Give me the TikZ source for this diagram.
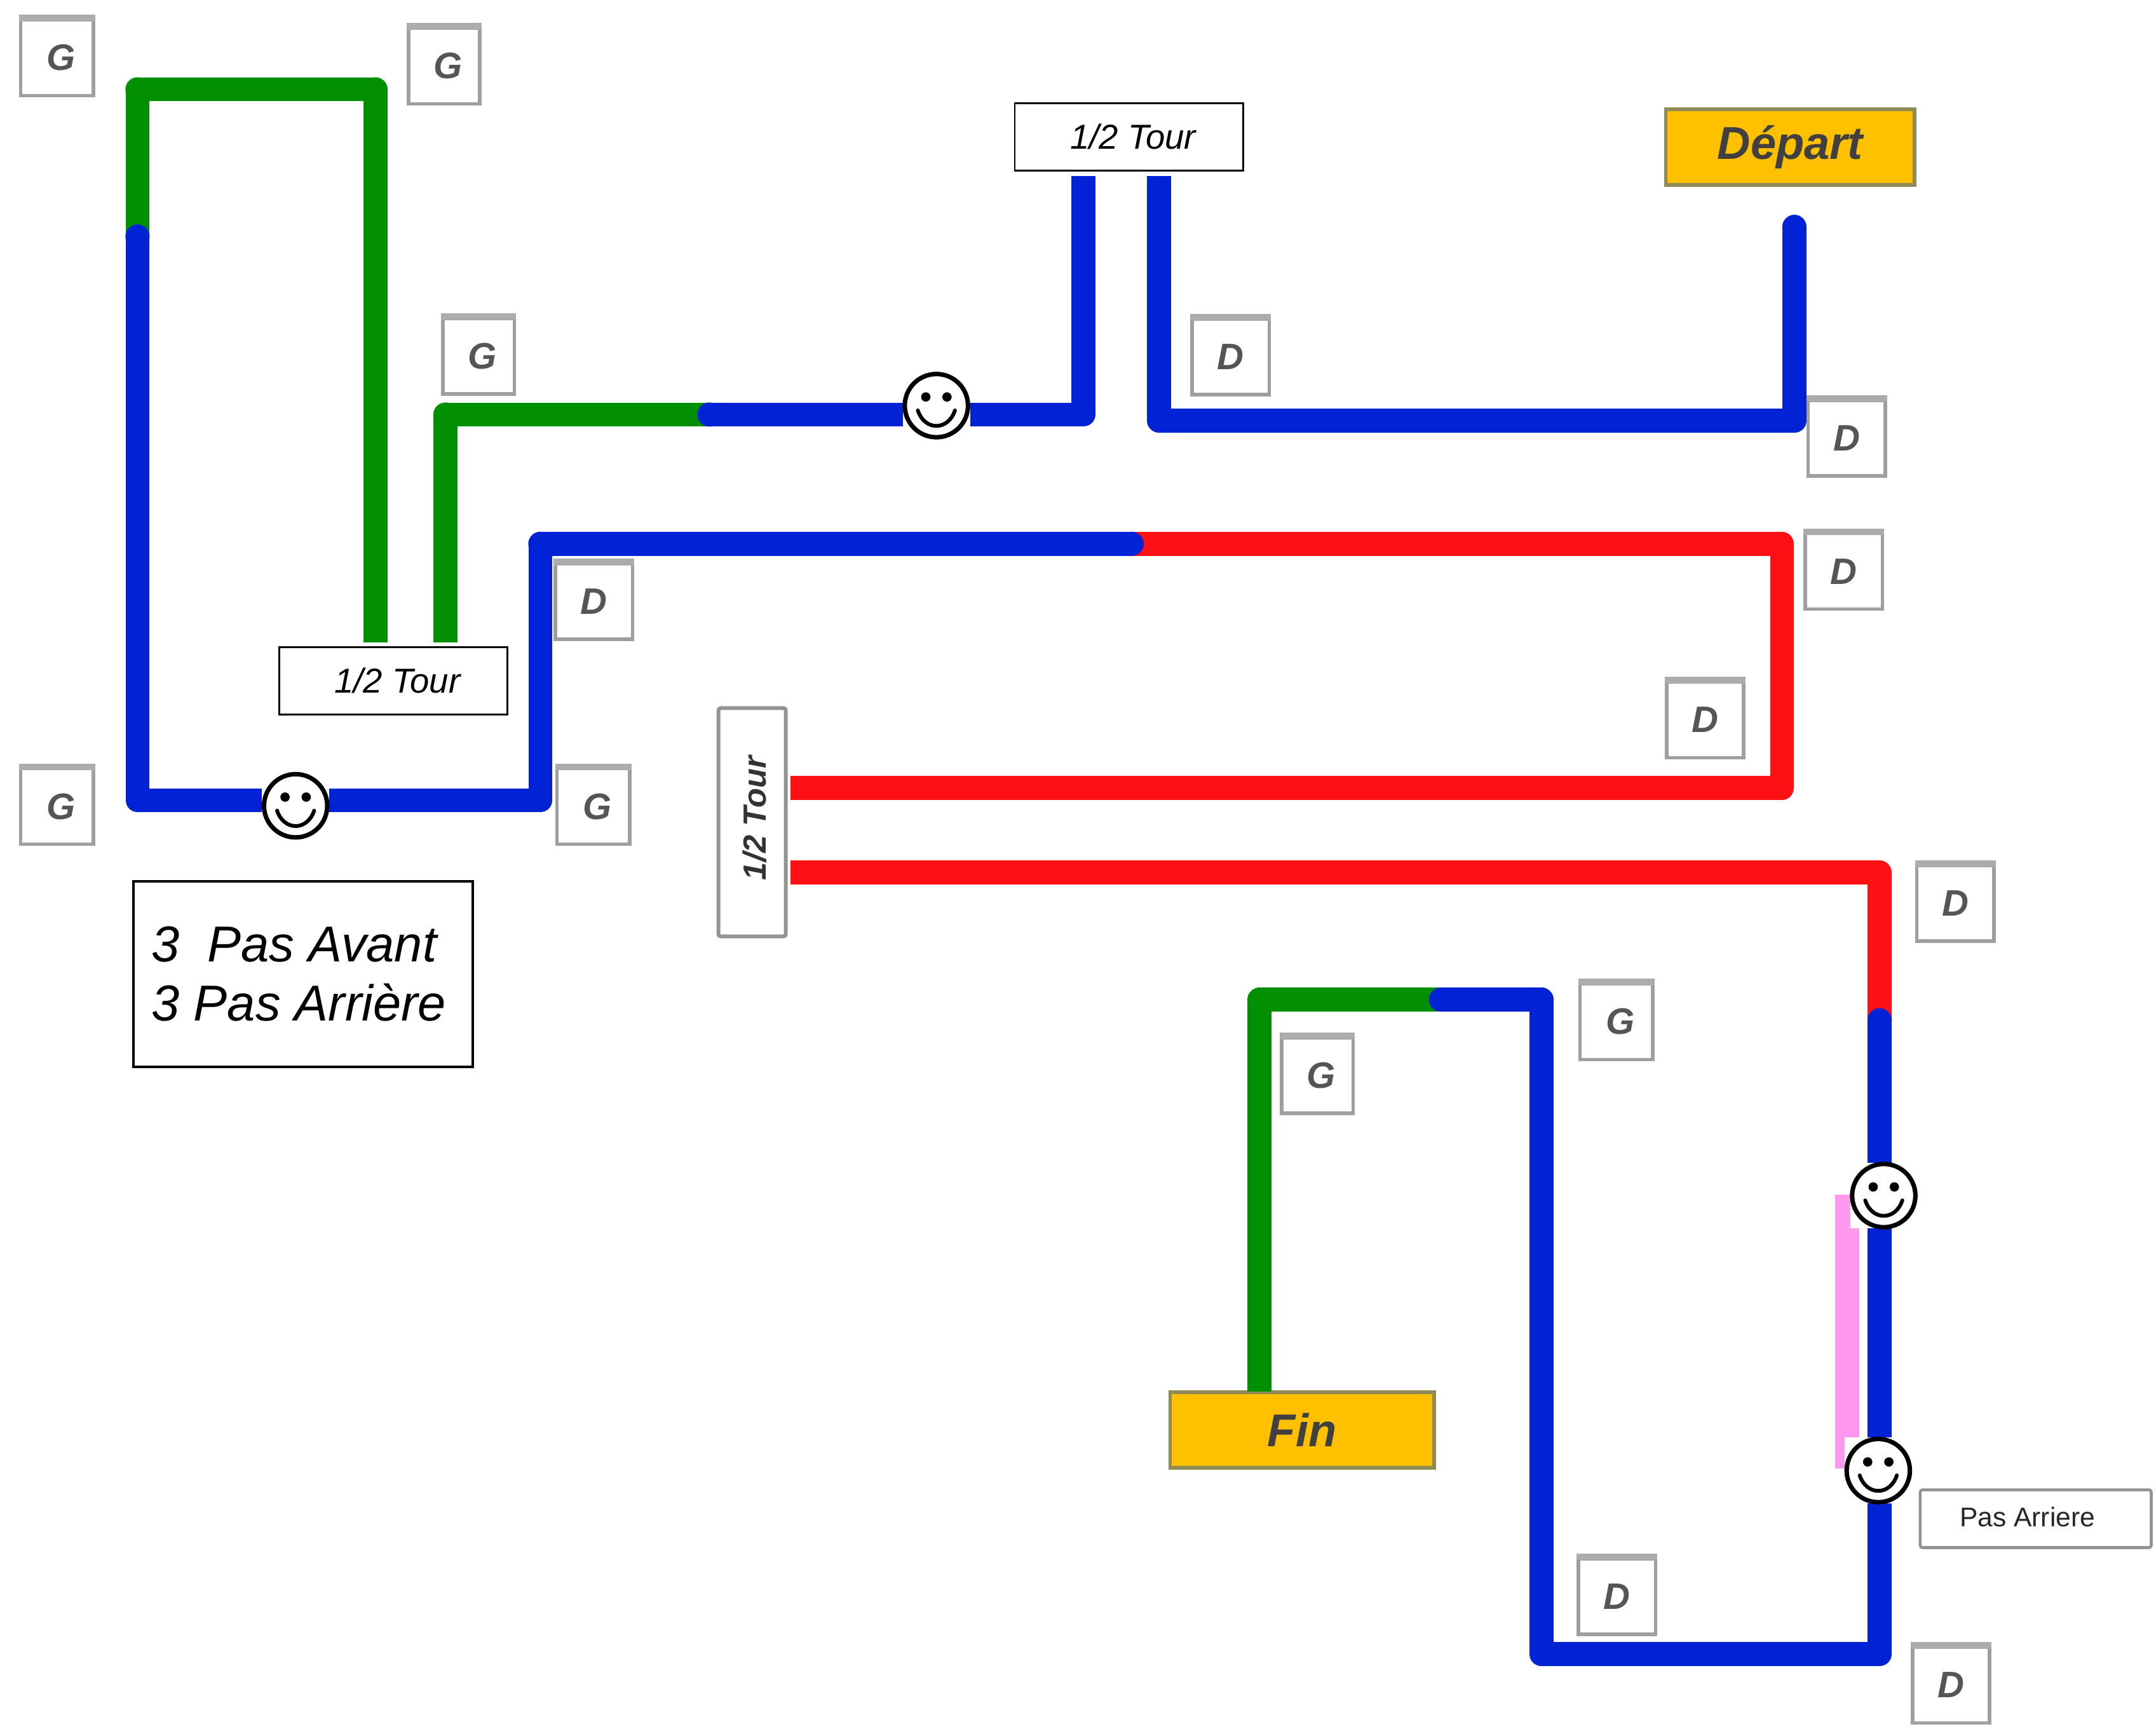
\documentclass[tikz,border=0pt]{standalone}
\usepackage{fontspec}
\setmainfont{Liberation Sans}
\definecolor{tgreen}{RGB}{2,144,2}
\definecolor{tblue}{RGB}{2,34,214}
\definecolor{tred}{RGB}{255,16,20}
\definecolor{tpink}{RGB}{255,153,238}
\definecolor{gold}{RGB}{255,192,0}
\definecolor{letter}{RGB}{85,85,85}
\newcommand{\capdot}[2]{\fill[#1] (#2) circle (8.8);}
\newcommand{\smileyface}[2]{%
  \fill[white] (#2)++(-24.5,-24) rectangle ++(49,48);
  \node[smile] (#1) at (#2) {};
  \fill (#2)++(-7.7,-6.3) circle (3.4);
  \fill (#2)++(7.7,-6.3) circle (3.4);
  \draw[line width=1.7pt,line cap=round] (#2)++(-13.5,3.5) .. controls +(5,15) and +(-5,15) .. ++(27,0);
}
\tikzset{
  x=0.2164mm,y=-0.2164mm,
  track/.style={line width=10.7pt,line join=round,line cap=butt},
  smile/.style={circle,draw=black,line width=2pt,minimum size=46*0.2164mm,inner sep=0pt},
  keybox/.style={rectangle,inner sep=0pt,minimum width=50*0.2164mm,minimum height=55*0.2164mm,
    draw=gray!75,line width=1.6pt,fill=white,text=letter,font=\fontsize{16.5}{16.5}\selectfont\itshape\bfseries},
  keytop/.style={line width=3pt,draw=gray!65},
  infobox/.style={rectangle,draw=black,line width=0.8pt,fill=white,inner sep=0pt,
    minimum width=166*0.2164mm,minimum height=49*0.2164mm,font=\fontsize{15.5}{15.5}\selectfont\itshape},
  goldbox/.style={rectangle,draw=gray!60!olive,line width=1.6pt,fill=gold,inner sep=0pt,
    text=black!75,font=\fontsize{20.6}{20.6}\selectfont\itshape\bfseries},
}
\newcommand{\keyb}[4]{%
  \node[keybox,minimum width=#4*0.2164mm] (#1) at (#2) {\raisebox{-0.6pt}{#3}};
  \draw[keytop] (#1.north west) -- (#1.north east);
}
\begin{document}
\begin{tikzpicture}
\useasboundingbox (0,0) rectangle (1568,1257.4);
% label boxes
\node[infobox] (tourtop) at (821,99.5) {\hspace{0.24em}\raisebox{-1pt}{1/2 Tour}};
\node[infobox] (tourleft) at (286,495) {\hspace{0.24em}\raisebox{-1pt}{1/2 Tour}};
\node[rectangle,rounded corners=1pt,draw=gray!85,line width=1.7pt,fill=white,inner sep=0pt,
  minimum width=49*0.2164mm,minimum height=166*0.2164mm] (tourmid) at (547,598) {};
\node[rotate=90,text=black!80,font=\fontsize{14.4}{14.4}\selectfont\itshape\bfseries] (tourmidtext) at (549,595) {1/2 Tour};
\node[goldbox,minimum width=181*0.2164mm,minimum height=55*0.2164mm] (depart) at (1302,107) {Départ};
\node[goldbox,minimum width=192*0.2164mm,minimum height=55*0.2164mm] (fin) at (947,1040) {Fin};
\node[rectangle,draw=black,line width=1.1pt,inner sep=0pt,minimum width=247*0.2164mm,minimum height=135*0.2164mm] (legend) at (220.5,708.5) {};
\node[anchor=west,inner sep=0pt,font=\fontsize{22.6}{22.6}\selectfont\itshape] (legendA) at (110,687) {3\hspace{0.55em}Pas Avant};
\node[anchor=west,inner sep=0pt,font=\fontsize{22.6}{22.6}\selectfont\itshape] (legendB) at (110,729) {3 Pas Arrière};
\node[rectangle,rounded corners=1pt,draw=gray!85,line width=1.3pt,fill=white,inner sep=0pt,
  minimum width=168*0.2164mm,minimum height=42*0.2164mm] (pasarr) at (1480.5,1104.5) {};
\node[text=black!85,font=\fontsize{12.1}{12.1}\selectfont] (pasarrtext) at (1474.5,1103) {Pas Arriere};
% way points
\coordinate (a1) at (100,172);
\coordinate (a2) at (100,65);
\coordinate (a3) at (273,65);
\coordinate (a4) at (273,467);
\coordinate (a5) at (100,582);
\coordinate (a6) at (393,582);
\coordinate (a7) at (393,395.5);
\coordinate (a8) at (823,395.5);
\coordinate (a9) at (1296,395.5);
\coordinate (a10) at (1296,573);
\coordinate (a11) at (575,573);
\coordinate (b1) at (324,467);
\coordinate (b2) at (324,301.5);
\coordinate (b3) at (516,301.5);
\coordinate (b4) at (788,301.5);
\coordinate (b5) at (788,128);
\coordinate (c1) at (843,128);
\coordinate (c2) at (843,306);
\coordinate (c3) at (1305,306);
\coordinate (c4) at (1305,165);
\coordinate (d1) at (575,634.5);
\coordinate (d2) at (1367,634.5);
\coordinate (d3) at (1367,742);
\coordinate (d4) at (1367,1203);
\coordinate (d5) at (1121,1203);
\coordinate (d6) at (1121,727);
\coordinate (d7) at (1048,727);
\coordinate (d8) at (916,727);
\coordinate (d9) at (916,1012);
% tracks
\draw[track,tgreen] (a1) -- (a2) -- (a3) -- (a4);
\capdot{tgreen}{a2}\capdot{tgreen}{a3}
\draw[track,tgreen] (b1) -- (b2) -- (b3);
\capdot{tgreen}{b2}
\draw[track,tgreen] (d7) -- (d8) -- (d9);
\draw[track,tred] (a8) -- (a9) -- (a10) -- (a11);
\draw[track,tred] (d1) -- (d2) -- (d3);
\draw[track,tblue] (a1) -- (a5) -- (a6) -- (a7) -- (a8);
\capdot{tblue}{a1}\capdot{tblue}{a7}\capdot{tblue}{a8}
\draw[track,tblue] (b3) -- (b4) -- (b5);
\capdot{tblue}{b3}
\draw[track,tblue] (c1) -- (c2) -- (c3) -- (c4);
\capdot{tblue}{c4}
\draw[track,tblue] (d3) -- (d4) -- (d5) -- (d6) -- (d7);
\capdot{tblue}{d3}\capdot{tblue}{d6}\capdot{tblue}{d7}
% pink bar
\fill[tpink] (1334.5,869) rectangle (1352,1068);
% smileys
\coordinate (s1) at (681,295);
\coordinate (s2) at (215,586);
\coordinate (s3) at (1370,869.5);
\coordinate (s4) at (1366,1069.5);
\smileyface{smileA}{s1}
\smileyface{smileB}{s2}
\smileyface{smileC}{s3}
\smileyface{smileD}{s4}
% G and D keys
\keyb{g1}{41.5,42}{\hspace{0.22em}G}{53}
\keyb{g2}{323,48}{\hspace{0.22em}G}{52}
\keyb{g3}{348,259}{\hspace{0.22em}G}{52}
\keyb{g4}{41.5,586.5}{\hspace{0.22em}G}{53}
\keyb{g5}{431.5,586.5}{\hspace{0.22em}G}{53}
\keyb{g6}{1175.5,743}{\hspace{0.22em}G}{53}
\keyb{g7}{958,782}{\hspace{0.22em}G}{52}
\keyb{k1}{895,259.5}{D}{56}
\keyb{k2}{1343,318.5}{D}{56}
\keyb{k3}{1341,415.5}{D}{56}
\keyb{k4}{432,437.5}{D}{56}
\keyb{k5}{1240,523.5}{D}{56}
\keyb{k6}{1422,657}{D}{56}
\keyb{k7}{1176,1161}{D}{56}
\keyb{k8}{1419,1225.5}{D}{56}
\end{tikzpicture}
\end{document}
